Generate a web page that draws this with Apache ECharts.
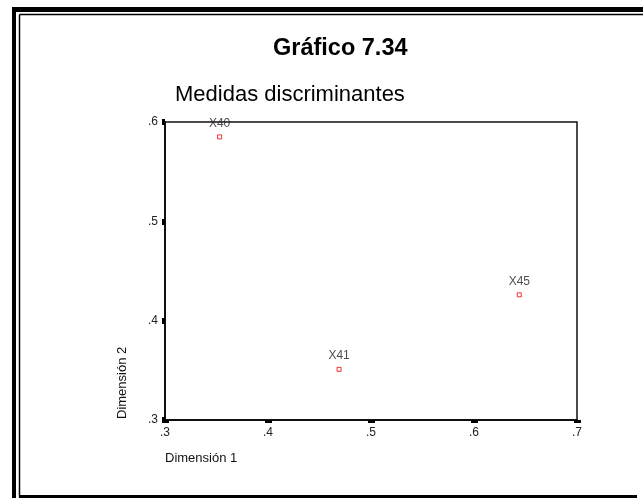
<!DOCTYPE html>
<html>
<head>
<meta charset="utf-8">
<script src="https://cdn.jsdelivr.net/npm/echarts@6/dist/echarts.min.js"></script>
<style>
  html, body { margin: 0; padding: 0; background: #fff; }
  #chart { width: 643px; height: 498px; }
</style>
</head>
<body>
<div id="chart"></div>
<script>
// puntos de las medidas discriminantes
var names = ['X40', 'X41', 'X45'];
var dim1 = [0.353, 0.469, 0.644];
var dim2 = [0.585, 0.351, 0.426];
var xTicks = ['.3', '.4', '.5', '.6', '.7'];
var yTicks = ['.3', '.4', '.5', '.6'];

var pts = [];
for (var i = 0; i < names.length; i++) {
    pts.push({ name: names[i], value: [dim1[i], dim2[i]] });
}

function tickLabel(list, min) {
    return function (v) {
        var idx = Math.round((v - min) / 0.1);
        return list[idx] || '';
    };
}

var font = 'Liberation Sans, Arial, sans-serif';
var myChart = echarts.init(document.getElementById('chart'));
var option = {
    backgroundColor: '#fff',
    animation: false,
    grid: {
        left: 165, right: 66, top: 122, bottom: 78,
        show: true, borderColor: '#111', borderWidth: 1.5, backgroundColor: 'transparent'
    },
    xAxis: {
        type: 'value', min: 0.3, max: 0.7, interval: 0.1,
        splitLine: { show: false },
        axisLine: { onZero: false, lineStyle: { color: '#111', width: 2 } },
        axisTick: { length: 3, lineStyle: { color: '#000', width: 7 } },
        axisLabel: { margin: 7, color: '#222', fontSize: 12, fontFamily: font, formatter: tickLabel(xTicks, 0.3) }
    },
    yAxis: {
        type: 'value', min: 0.3, max: 0.6, interval: 0.1,
        splitLine: { show: false },
        axisLine: { onZero: false, lineStyle: { color: '#111', width: 2 } },
        axisTick: { length: 3, lineStyle: { color: '#000', width: 6 } },
        axisLabel: { margin: 7, color: '#222', fontSize: 12, fontFamily: font, formatter: tickLabel(yTicks, 0.3) }
    },
    graphic: [
        // marco exterior grueso y linea interior fina
        { type: 'rect', shape: { x: 12, y: 7, width: 4, height: 491 }, style: { fill: '#000' } },
        { type: 'rect', shape: { x: 12, y: 7, width: 631, height: 5 }, style: { fill: '#000' } },
        { type: 'line', shape: { x1: 19.5, y1: 14.5, x2: 643, y2: 14.5 }, style: { stroke: '#000', lineWidth: 1.5 } },
        { type: 'line', shape: { x1: 19.5, y1: 14.5, x2: 19.5, y2: 497 }, style: { stroke: '#000', lineWidth: 1.5 } },
        { type: 'rect', shape: { x: 19, y: 495, width: 618, height: 3 }, style: { fill: '#000' } },
        { type: 'text', left: 273, top: 37, style: { text: 'Gráfico 7.34', font: 'bold 23.5px ' + font, fill: '#000' } },
        { type: 'text', left: 175, top: 84, style: { text: 'Medidas discriminantes', font: '22px ' + font, fill: '#000' } },
        { type: 'text', left: 165, top: 452, style: { text: 'Dimensión 1', font: '13px ' + font, fill: '#111' } },
        { type: 'text', x: 116, y: 419, rotation: Math.PI / 2,
          style: { text: 'Dimensión 2', font: '13px ' + font, fill: '#111', align: 'left', verticalAlign: 'top' } }
    ],
    series: [{
        type: 'scatter',
        symbol: 'rect',
        symbolSize: 4,
        itemStyle: { color: '#fff', borderColor: '#e00', borderWidth: 1 },
        label: {
            show: true, position: 'top', distance: 5,
            formatter: '{b}', color: '#222', fontSize: 12, fontFamily: font
        },
        data: pts
    }]
};
myChart.setOption(option);
</script>
</body>
</html>
